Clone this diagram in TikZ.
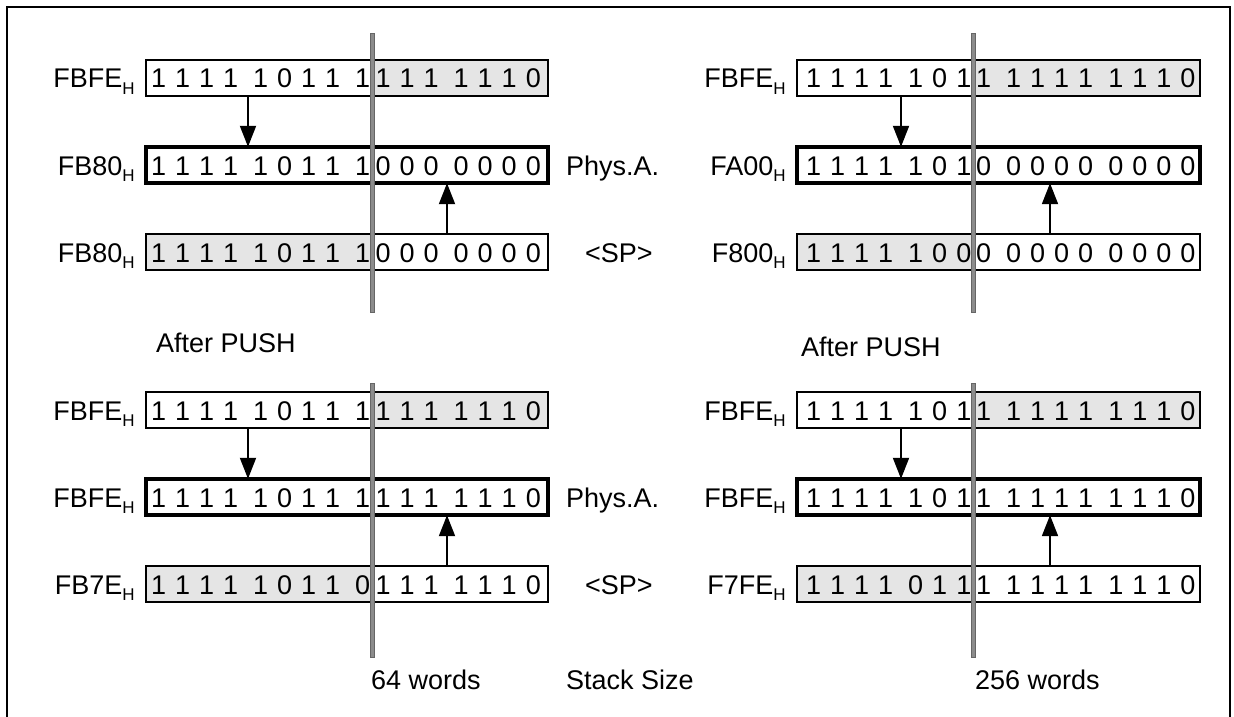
\documentclass[tikz,border=0pt]{standalone}
\usepackage{fontspec}
\setmainfont{Liberation Sans}
\usetikzlibrary{arrows.meta}
\newcommand{\dsp}{\hspace{9pt}}
\newcommand{\gsp}{\hspace{15pt}}
\newcommand{\hx}[1]{#1\raisebox{-6pt}{\fontsize{17}{17}\selectfont H}}
\tikzset{
  txt/.style={font=\fontsize{27}{30}\selectfont, inner sep=0pt},
  shade/.style={fill=black!10},
  divider/.style={fill=black!45, draw=black!60, line width=0.6pt},
  arr/.style={line width=1.9pt, -{Triangle[width=16pt,length=21pt]}},
}
\begin{document}
\begin{tikzpicture}[x=1pt,y=-1pt]
\useasboundingbox (0,0) rectangle (1234,717);
\draw[line width=2pt] (7,740) -- (7,7) -- (1230,7) -- (1230,740);
\coordinate (dL) at (372,0);
\coordinate (dR) at (973,0);
\coordinate (aLd) at (248,0);
\coordinate (aLu) at (447,0);
\coordinate (aRd) at (901,0);
\coordinate (aRu) at (1050,0);
% ---- box outlines (named) ----
\foreach \n/\y in {1/78,2/165,3/252,4/410,5/497,6/584}{
  \path (347,\y) node[minimum width=402pt, minimum height=36pt, inner sep=0pt] (L\n) {};
  \path (998.5,\y) node[minimum width=403pt, minimum height=36pt, inner sep=0pt] (R\n) {};
}
% ---- shading ----
\fill[shade] (L1.north -| dL) rectangle (L1.south east);
\fill[shade] (L3.north west) rectangle (L3.south -| dL);
\fill[shade] (L4.north -| dL) rectangle (L4.south east);
\fill[shade] (L6.north west) rectangle (L6.south -| dL);
\fill[shade] (R1.north -| dR) rectangle (R1.south east);
\fill[shade] (R3.north west) rectangle (R3.south -| dR);
\fill[shade] (R4.north -| dR) rectangle (R4.south east);
\fill[shade] (R6.north west) rectangle (R6.south -| dR);
% ---- borders ----
\foreach \n in {1,3,4,6}{
  \draw[line width=1.7pt] (L\n.north west) rectangle (L\n.south east);
  \draw[line width=1.7pt] (R\n.north west) rectangle (R\n.south east);
}
\foreach \n in {2,5}{
  \draw[line width=3.8pt] (L\n.north west) rectangle (L\n.south east);
  \draw[line width=3.8pt] (R\n.north west) rectangle (R\n.south east);
}
% ---- dividers ----
\filldraw[divider] (370,33) rectangle (374.5,312);
\filldraw[divider] (370,383) rectangle (374.5,657);
\filldraw[divider] (971,33) rectangle (975.5,312);
\filldraw[divider] (971,383) rectangle (975.5,657);
\begin{scope}[every node/.style={txt}]
% ---- bits, left column ----
\foreach \n/\p/\r in {
  1/{1\dsp1\dsp1\dsp1\gsp1\dsp0\dsp1\dsp1\gsp1}/{1\dsp1\dsp1\gsp1\dsp1\dsp1\dsp0},
  2/{1\dsp1\dsp1\dsp1\gsp1\dsp0\dsp1\dsp1\gsp1}/{0\dsp0\dsp0\gsp0\dsp0\dsp0\dsp0},
  3/{1\dsp1\dsp1\dsp1\gsp1\dsp0\dsp1\dsp1\gsp1}/{0\dsp0\dsp0\gsp0\dsp0\dsp0\dsp0},
  4/{1\dsp1\dsp1\dsp1\gsp1\dsp0\dsp1\dsp1\gsp1}/{1\dsp1\dsp1\gsp1\dsp1\dsp1\dsp0},
  5/{1\dsp1\dsp1\dsp1\gsp1\dsp0\dsp1\dsp1\gsp1}/{1\dsp1\dsp1\gsp1\dsp1\dsp1\dsp0},
  6/{1\dsp1\dsp1\dsp1\gsp1\dsp0\dsp1\dsp1\gsp0}/{1\dsp1\dsp1\gsp1\dsp1\dsp1\dsp0}}{
  \node[anchor=base east] (LA\n) at ([yshift=-10pt,xshift=-1.5pt]L\n.center -| dL) {\p};
  \node[anchor=base west] (LB\n) at ([yshift=-10pt,xshift=3.5pt]L\n.center -| dL) {\r};
}
% ---- bits, right column ----
\foreach \n/\p/\r in {
  1/{1\dsp1\dsp1\dsp1\gsp1\dsp0\dsp1}/{1\gsp1\dsp1\dsp1\dsp1\gsp1\dsp1\dsp1\dsp0},
  2/{1\dsp1\dsp1\dsp1\gsp1\dsp0\dsp1}/{0\gsp0\dsp0\dsp0\dsp0\gsp0\dsp0\dsp0\dsp0},
  3/{1\dsp1\dsp1\dsp1\gsp1\dsp0\dsp0}/{0\gsp0\dsp0\dsp0\dsp0\gsp0\dsp0\dsp0\dsp0},
  4/{1\dsp1\dsp1\dsp1\gsp1\dsp0\dsp1}/{1\gsp1\dsp1\dsp1\dsp1\gsp1\dsp1\dsp1\dsp0},
  5/{1\dsp1\dsp1\dsp1\gsp1\dsp0\dsp1}/{1\gsp1\dsp1\dsp1\dsp1\gsp1\dsp1\dsp1\dsp0},
  6/{1\dsp1\dsp1\dsp1\gsp0\dsp1\dsp1}/{1\gsp1\dsp1\dsp1\dsp1\gsp1\dsp1\dsp1\dsp0}}{
  \node[anchor=base east] (RA\n) at ([yshift=-10pt,xshift=-1.5pt]R\n.center -| dR) {\p};
  \node[anchor=base west] (RB\n) at ([yshift=-10pt,xshift=3pt]R\n.center -| dR) {\r};
}
% ---- row labels ----
\foreach \n/\t in {1/FBFE,2/FB80,3/FB80,4/FBFE,5/FBFE,6/FB7E}{
  \node[anchor=base east] (LL\n) at ([yshift=-10pt,xshift=-11pt]L\n.west) {\hx{\t}};
}
\foreach \n/\t in {1/FBFE,2/FA00,3/F800,4/FBFE,5/FBFE,6/F7FE}{
  \node[anchor=base east] (RL\n) at ([yshift=-10pt,xshift=-11pt]R\n.west) {\hx{\t}};
}
\node[anchor=base west] (pa1) at (566,175) {Phys.A.};
\node[anchor=base west] (sp1) at (585,262) {<SP>};
\node[anchor=base west] (pa2) at (566,507) {Phys.A.};
\node[anchor=base west] (sp2) at (585,594) {<SP>};
\node[anchor=base west] (ap1) at (156,352) {After PUSH};
\node[anchor=base west] (ap2) at (801,356) {After PUSH};
\node[anchor=base west] (w64) at (371,689) {64 words};
\node[anchor=base west] (ss) at (566,689) {Stack Size};
\node[anchor=base west] (w256) at (975,689) {256 words};
\end{scope}
% ---- arrows ----
\draw[arr] (L1.south -| aLd) -- (L2.north -| aLd);
\draw[arr] (L3.north -| aLu) -- (L2.south -| aLu);
\draw[arr] (R1.south -| aRd) -- (R2.north -| aRd);
\draw[arr] (R3.north -| aRu) -- (R2.south -| aRu);
\draw[arr] (L4.south -| aLd) -- (L5.north -| aLd);
\draw[arr] (L6.north -| aLu) -- (L5.south -| aLu);
\draw[arr] (R4.south -| aRd) -- (R5.north -| aRd);
\draw[arr] (R6.north -| aRu) -- (R5.south -| aRu);
\end{tikzpicture}
\end{document}
